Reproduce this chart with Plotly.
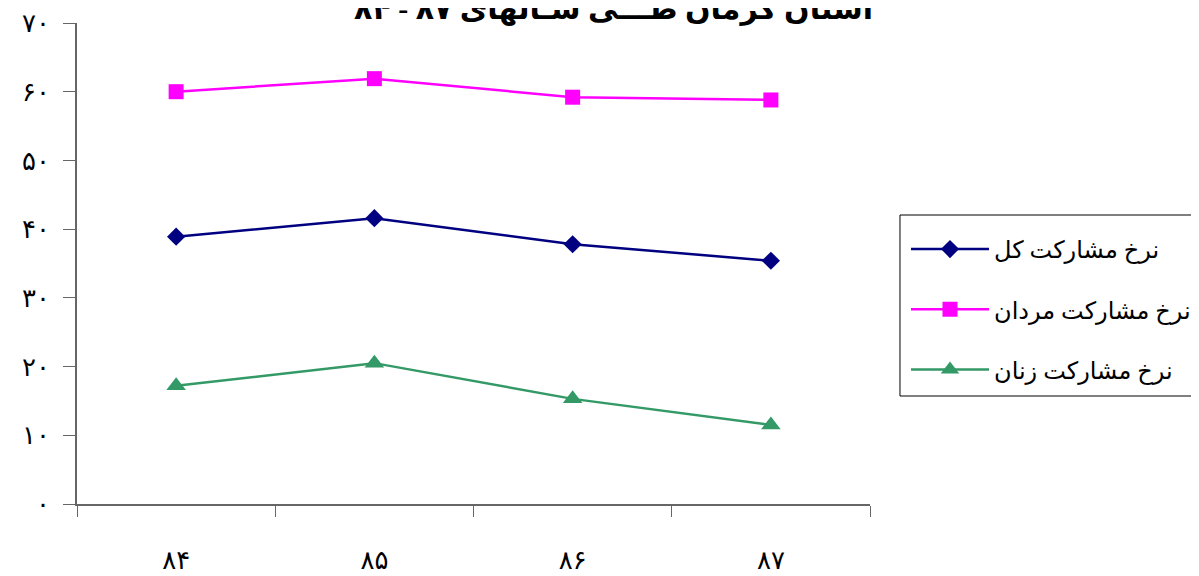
import plotly.graph_objects as go

years = ["۸۴", "۸۵", "۸۶", "۸۷"]
total_rate = [38.9, 41.6, 37.8, 35.4]
men_rate = [60.0, 61.9, 59.2, 58.8]
women_rate = [17.2, 20.5, 15.3, 11.5]
y_tick_vals = [0, 10, 20, 30, 40, 50, 60, 70]
y_tick_text = ["۰", "۱۰", "۲۰", "۳۰", "۴۰", "۵۰", "۶۰", "۷۰"]
series_names = ["نرخ مشارکت کل", "نرخ مشارکت مردان", "نرخ مشارکت زنان"]
title_text = "استان کرمان طـــی سـالهای ۸۷ - ۸۴"

FONT = "Times New Roman, DejaVu Sans, serif"

fig = go.Figure()
styles = [
    ("#000080", "diamond", 14),
    ("#FF00FF", "square", 15),
    ("#339966", "triangle-up", 17),
]
for i, (vals, name) in enumerate(zip([total_rate, men_rate, women_rate], series_names)):
    color, sym, size = styles[i]
    fig.add_trace(go.Scatter(
        x=years, y=vals, name=name, mode="lines+markers",
        line=dict(color=color, width=2.5),
        marker=dict(symbol=sym, size=size, color=color, line=dict(width=0)),
        legendgroup=f"g{i}",
    ))

# legend frame
fig.add_shape(type="rect", xref="paper", yref="paper",
              x0=1.0378, x1=1.6, y0=0.2245, y1=0.6008,
              line=dict(color="black", width=1), fillcolor="white", layer="below")

fig.update_layout(
    width=1199, height=576,
    margin=dict(l=69, r=337, t=15, b=80, autoexpand=False),
    paper_bgcolor="white", plot_bgcolor="rgba(0,0,0,0)",
    font=dict(family=FONT, color="black", size=20),
    title=dict(text=title_text, x=0.505, xref="container", y=1.0, yref="container",
               yanchor="middle", xanchor="center",
               font=dict(size=30, family=FONT, color="black", weight="bold")),
    showlegend=True,
    legend=dict(
        x=1.0454, y=0.576, xanchor="left", yanchor="top",
        borderwidth=0, bgcolor="rgba(0,0,0,0)",
        font=dict(size=24, family=FONT, color="black"),
        traceorder="grouped", tracegroupgap=26, itemwidth=78,
    ),
)
fig.update_xaxes(
    type="category", range=[-0.5, 3.5], showgrid=False,
    showline=True, linecolor="#666666", linewidth=1.5,
    ticks="outside", ticklen=11, tickcolor="#666666", tickwidth=1.2,
    tickson="boundaries", ticklabelstandoff=32,
    tickfont=dict(size=26, family=FONT),
)
fig.update_yaxes(
    range=[0, 70], tickvals=y_tick_vals, ticktext=y_tick_text,
    showgrid=False, zeroline=False,
    showline=True, linecolor="#666666", linewidth=1.5,
    ticks="outside", ticklen=12, tickcolor="#666666", tickwidth=1.2,
    ticklabelstandoff=8,
    tickfont=dict(size=26, family=FONT),
)

fig.write_html("out.html")
